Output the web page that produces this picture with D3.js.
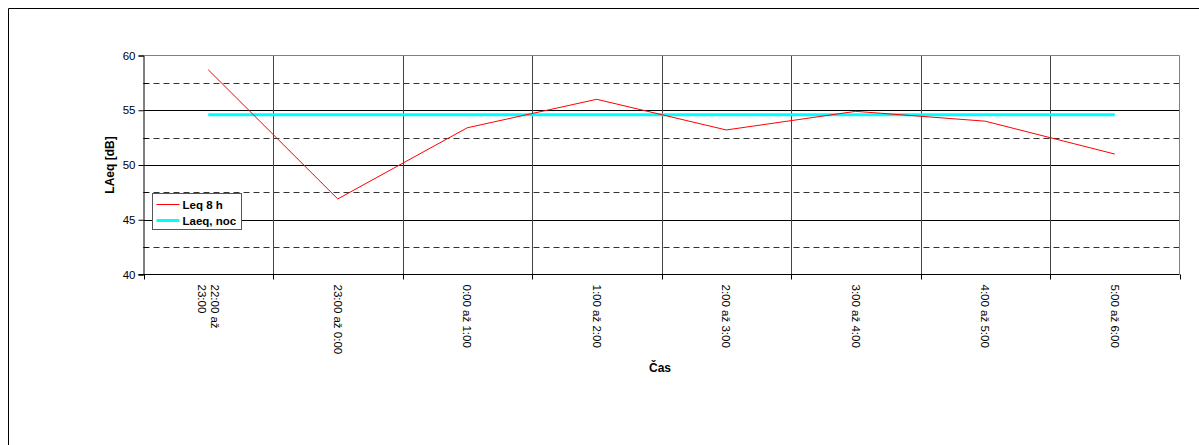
<!DOCTYPE html>
<html>
<head>
<meta charset="utf-8">
<script src="https://cdn.jsdelivr.net/npm/d3@7/dist/d3.min.js"></script>
<style>
  html, body { margin: 0; padding: 0; background: #fff; }
  svg { display: block; font-family: Arial, "Liberation Sans", sans-serif; }
</style>
</head>
<body>
<svg id="chart" width="1199" height="445"></svg>
<script>
// Hourly night-time noise levels
const categories = [
  ["22:00 až", "23:00"],
  ["23:00 až 0:00"],
  ["0:00 až 1:00"],
  ["1:00 až 2:00"],
  ["2:00 až 3:00"],
  ["3:00 až 4:00"],
  ["4:00 až 5:00"],
  ["5:00 až 6:00"]
];
const leq8h = [58.7, 46.9, 53.4, 56.0, 53.2, 54.9, 54.0, 51.0];
const laeqNoc = [54.6, 54.6, 54.6, 54.6, 54.6, 54.6, 54.6, 54.6];
const yMajorTicks = [40, 45, 50, 55, 60];
const yMinorTicks = [42.5, 47.5, 52.5, 57.5];
const seriesNames = ["Leq 8 h", "Laeq, noc"];
const yTitle = "LAeq [dB]";
const xTitle = "Čas";

const svg = d3.select("#chart");
const plot = { left: 143.5, right: 1179.5, top: 55.5, bottom: 274.5 };

// Outer chart frame (only left and top edges are within the view)
svg.append("path")
  .attr("d", "M8.5,445 V8.5 H1199")
  .attr("fill", "none").attr("stroke", "#000").attr("stroke-width", 1);

const x = d3.scaleBand().domain(d3.range(categories.length))
  .range([plot.left, plot.right]).paddingInner(0).paddingOuter(0);
const y = d3.scaleLinear().domain([40, 60]).range([plot.bottom, plot.top]);
const cx = i => x(i) + x.bandwidth() / 2;

const g = svg.append("g");

// Minor horizontal gridlines (dashed)
g.selectAll(".minor").data(yMinorTicks).join("line")
  .attr("x1", plot.left).attr("x2", plot.right)
  .attr("y1", d => Math.round(y(d)) + 0.5).attr("y2", d => Math.round(y(d)) + 0.5)
  .attr("stroke", "#333").attr("stroke-width", 1).attr("stroke-dasharray", "6,4");

// Major horizontal gridlines
g.selectAll(".major").data(yMajorTicks.slice(1, -1)).join("line")
  .attr("x1", plot.left).attr("x2", plot.right)
  .attr("y1", d => Math.round(y(d)) + 0.5).attr("y2", d => Math.round(y(d)) + 0.5)
  .attr("stroke", "#000").attr("stroke-width", 1);

// Vertical gridlines at category boundaries
g.selectAll(".vgrid").data(d3.range(1, categories.length)).join("line")
  .attr("x1", d => Math.round(x(d)) + 0.5).attr("x2", d => Math.round(x(d)) + 0.5)
  .attr("y1", plot.top).attr("y2", plot.bottom)
  .attr("stroke", "#444").attr("stroke-width", 1);

// Plot border
g.append("path")
  .attr("d", `M${plot.left},${plot.top} H${plot.right} V${plot.bottom}`)
  .attr("fill", "none").attr("stroke", "#808080").attr("stroke-width", 1);

// Y axis
const yAxis = d3.axisLeft(y).tickValues(yMajorTicks).tickSize(5).tickPadding(3);
const ya = svg.append("g").attr("transform", `translate(${plot.left},0)`).call(yAxis);
ya.select(".domain").attr("stroke", "#000");
ya.selectAll(".tick line").attr("stroke", "#000");
ya.selectAll(".tick text").attr("font-size", 11.5).attr("fill", "#000")
  .attr("font-family", "Arial, 'Liberation Sans', sans-serif");
// minor ticks on the inside
svg.append("g").selectAll("line").data(yMinorTicks).join("line")
  .attr("x1", plot.left).attr("x2", plot.left + 5)
  .attr("y1", d => Math.round(y(d)) + 0.5).attr("y2", d => Math.round(y(d)) + 0.5)
  .attr("stroke", "#000");

// X axis
const xb = svg.append("g");
xb.append("line").attr("x1", plot.left - 5).attr("x2", plot.right)
  .attr("y1", plot.bottom).attr("y2", plot.bottom).attr("stroke", "#000");
xb.selectAll(".xt").data(d3.range(categories.length + 1)).join("line")
  .attr("x1", d => Math.round(d < categories.length ? x(d) : plot.right) + 0.5)
  .attr("x2", d => Math.round(d < categories.length ? x(d) : plot.right) + 0.5)
  .attr("y1", plot.bottom).attr("y2", plot.bottom + 5).attr("stroke", "#000");

// Rotated category labels (read top-to-bottom)
const lab = xb.selectAll(".xl").data(categories).join("text")
  .attr("transform", (d, i) => `translate(${cx(i)},${plot.bottom + 10}) rotate(90)`)
  .attr("font-size", 11.5).attr("fill", "#000");
lab.each(function (lines) {
  const t = d3.select(this);
  const n = lines.length;
  lines.forEach((ln, k) => {
    t.append("tspan").attr("x", 0)
      .attr("y", ((n - 1) / 2 - k) * 13 * -1 + 4)
      .text(ln);
  });
});

// Axis titles
svg.append("text").attr("x", 660).attr("y", 372).attr("text-anchor", "middle")
  .attr("font-size", 12).attr("font-weight", "bold").text(xTitle);
svg.append("text").attr("transform", `translate(114,${(plot.top + plot.bottom) / 2}) rotate(-90)`)
  .attr("text-anchor", "middle").attr("font-size", 12).attr("font-weight", "bold").text(yTitle);

// Series
const line = d3.line().x((d, i) => cx(i)).y(d => y(d));
svg.append("path").datum(laeqNoc).attr("d", line)
  .attr("fill", "none").attr("stroke", "#00ffff").attr("stroke-width", 3);
svg.append("path").datum(leq8h).attr("d", line)
  .attr("fill", "none").attr("stroke", "#ff0000").attr("stroke-width", 1);

// Legend
const lg = svg.append("g").attr("transform", "translate(152.5,193.5)");
lg.append("rect").attr("width", 89).attr("height", 36)
  .attr("fill", "#fff").attr("stroke", "#555").attr("stroke-width", 1);
const colors = ["#ff0000", "#00ffff"];
const widths = [1, 3];
seriesNames.forEach((name, i) => {
  const yy = 11 + i * 16;
  lg.append("line").attr("x1", 4).attr("x2", 27).attr("y1", yy).attr("y2", yy)
    .attr("stroke", colors[i]).attr("stroke-width", widths[i]);
  lg.append("text").attr("x", 30).attr("y", yy + 4).attr("font-size", 11.5)
    .attr("font-weight", "bold").text(name);
});
</script>
</body>
</html>
